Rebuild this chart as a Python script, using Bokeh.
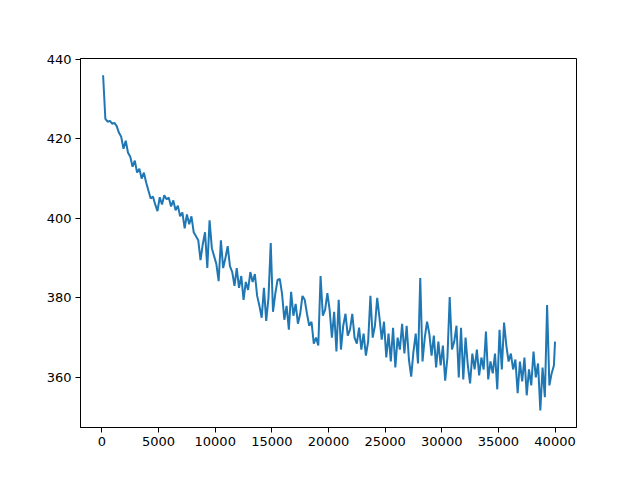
from bokeh.plotting import figure
from bokeh.models import Range1d, FixedTicker
from bokeh.embed import file_html
from bokeh.resources import INLINE

steps = list(range(100, 40000, 200)) + [40000]
values = [
    436.0, 425.0, 424.3, 424.5, 423.8, 424.0, 423.2, 421.5, 420.5, 417.5,
    419.5, 416.5, 415.5, 413.0, 414.5, 411.5, 412.5, 410.0, 411.5, 409.0,
    407.0, 405.0, 405.5, 403.5, 401.8, 405.3, 403.5, 405.8, 404.8, 405.2,
    403.0, 404.5, 402.0, 403.2, 400.5, 401.5, 397.5, 401.0, 398.5, 400.5,
    396.5, 395.5, 394.5, 389.5, 393.5, 396.5, 387.5, 399.5, 392.5, 390.5,
    388.5, 384.2, 394.5, 387.5, 390.0, 393.0, 388.0, 386.5, 383.0, 387.5,
    382.5, 385.5, 379.5, 384.0, 382.0, 386.5, 384.0, 386.0, 380.5, 378.0,
    375.0, 382.5, 374.2, 380.0, 393.8, 376.5, 381.0, 384.5, 384.8, 381.0,
    374.5, 378.0, 372.0, 381.5, 375.5, 378.5, 373.5, 376.0, 380.5, 379.5,
    376.0, 373.0, 374.0, 368.5, 370.0, 368.0, 385.5, 375.5, 377.0, 381.2,
    377.0, 370.0, 376.5, 366.5, 379.5, 367.0, 373.0, 376.0, 370.5, 372.0,
    376.0, 370.0, 368.5, 372.5, 367.0, 371.0, 365.5, 369.0, 380.5, 370.0,
    373.0, 380.0, 375.0, 369.5, 374.0, 365.0, 371.0, 364.0, 372.5, 362.5,
    370.0, 367.0, 373.5, 366.0, 373.0, 364.5, 360.2, 366.5, 371.0, 363.5,
    385.0, 364.0, 370.0, 374.0, 371.0, 365.5, 370.5, 362.5, 369.0, 363.0,
    368.0, 359.2, 365.0, 380.2, 367.0, 369.0, 373.0, 360.0, 372.5, 359.5,
    370.0, 363.0, 358.5, 366.0, 362.0, 367.0, 360.5, 365.0, 362.0, 371.5,
    359.5, 364.0, 361.0, 366.0, 357.0, 372.0, 362.0, 373.8, 368.0, 364.0,
    366.0, 362.0, 364.5, 356.0, 364.0, 359.0, 365.0, 355.5, 362.0, 358.0,
    366.5, 360.0, 363.5, 351.7, 362.5, 355.0, 378.2, 358.0, 361.0, 363.0,
    369.0,
]

x_ticks = [0, 5000, 10000, 15000, 20000, 25000, 30000, 35000, 40000]
y_ticks = [360, 380, 400, 420, 440]

p = figure(width=624, height=464, output_backend="svg", toolbar_location=None,
           x_range=Range1d(-1895, 41895), y_range=Range1d(347.4, 440.2),
           min_border_left=80, min_border_right=48, min_border_top=58,
           min_border_bottom=37)

p.line(steps, values, line_color="#1f77b4", line_width=2)

p.xgrid.visible = False
p.ygrid.visible = False
p.outline_line_color = "black"
p.outline_line_width = 1
p.background_fill_color = "white"
p.border_fill_color = "white"

p.xaxis.ticker = FixedTicker(ticks=x_ticks)
p.yaxis.ticker = FixedTicker(ticks=y_ticks)
for ax in (p.xaxis[0], p.yaxis[0]):
    ax.axis_line_color = "black"
    ax.major_tick_line_color = "black"
    ax.major_tick_out = 5
    ax.major_tick_in = 0
    ax.minor_tick_line_color = None
    ax.major_label_text_font = "DejaVu Sans"
    ax.major_label_text_font_size = "13px"
    ax.major_label_text_color = "black"
    ax.major_label_standoff = 4

open("out.html", "w").write(file_html(p, INLINE))
